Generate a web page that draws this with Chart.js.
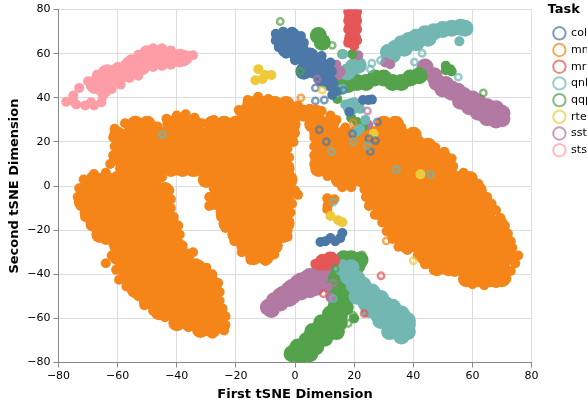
<!DOCTYPE html>
<html><head><meta charset="utf-8">
<script src="https://cdn.jsdelivr.net/npm/chart.js@4"></script>
<style>html,body{margin:0;padding:0;background:#fff;overflow:hidden;width:587px;height:406px}canvas{display:block}</style>
</head><body><canvas id="c" width="640" height="406"></canvas>
<script>
const taskNames = ["cola","mnli","mrpc","qnli","qqp","rte","sst","sts"];
const taskColors = ["#4C78A8","#F58518","#E45756","#72B7B2","#54A24B","#EECA3B","#B279A2","#FF9DA6"];
const axisTicks = [-80,-60,-40,-20,0,20,40,60,80];

// mnli: dense interior, one row per y value
const mnliRows = [
[37,[-15,-11,-7,-3]],
[33,[-17,-13,-9,-5,-1,3,7]],
[28,[-54,-50,-42,-38,-34,-28,-24,-20,-16,-12,-8,-4,-1,6,9,12,30,34]],
[23,[-60,-56,-52,-48,-44,-40,-36,-32,-28,-24,-20,-16,-12,-8,-4,-2,8,12,16,20,24,28,32,36,40]],
[18,[-58,-54,-50,-46,-42,-38,-34,-30,-26,-22,-18,-14,-10,-6,-4,9,13,17,21,25,29,33,37,41,45]],
[13,[-60,-56,-52,-48,-44,-40,-36,-32,-28,-24,-20,-16,-12,-8,-4,8,12,16,20,24,28,32,36,40,44,48,50]],
[8,[-58,-54,-50,-46,-42,-38,-34,-30,-26,-22,-18,-14,-10,-6,-3,8,12,16,20,24,28,32,36,40,44,48,52]],
[3,[-68,-64,-60,-56,-52,-48,-30,-26,-22,-18,-14,-10,-6,-2,15,19,23,27,31,35,39,43,47,51,55,59]],
[-2,[-71,-67,-63,-59,-55,-51,-47,-44,-26,-22,-18,-14,-10,-6,-2,26,30,34,38,42,46,50,54,58,62]],
[-7,[-72,-68,-64,-60,-56,-52,-48,-45,-27,-23,-19,-15,-11,-7,-3,27,31,35,39,43,47,51,55,59,63]],
[-12,[-70,-66,-62,-58,-54,-50,-46,-44,-24,-20,-16,-12,-8,-4,29,33,37,41,45,49,53,57,61,65]],
[-17,[-68,-64,-60,-56,-52,-48,-44,-42,-23,-19,-15,-11,-7,-3,33,37,41,45,49,53,57,61,65,69]],
[-22,[-66,-62,-58,-54,-50,-46,-42,-41,-20,-16,-12,-8,-4,34,38,42,46,50,54,58,62,66,70]],
[-27,[-60,-56,-52,-48,-44,-40,-17,-13,-9,-7,38,42,46,50,54,58,62,66,70]],
[-32,[-60,-56,-52,-48,-44,-40,-37,-14,-10,44,48,52,56,60,64,68,72]],
[-37,[-58,-54,-50,-46,-42,-38,-36,-33,48,52,56,60,64,68,70]],
[-42,[-56,-52,-48,-44,-40,-36,-32,-29,58,62,66,70]],
[-47,[-54,-50,-46,-42,-38,-34,-30,-28]],
[-52,[-50,-46,-42,-38,-34,-30,-27.5]],
[-57,[-46,-42,-38,-34,-30,-26]],
[-62,[-40,-36,-32,-28,-26]],
[-65,[-32,-28]]
];
const mnliFill = mnliRows.flatMap(([y,xs])=>xs.map(x=>[x,y]));
const mnliEdge = [[-61.5,22],[-61,26],[-57.5,28.5],[-54,29.5],[-50.5,28.5],[-46.5,27],[-43.5,30.5],[-40,32],[-37,32.5],[-34,31],[-31.5,28.5],[-27.5,30],[-25,27.5],[-21.5,28.5],[-19,34.5],[-16,39],[-12.5,40.5],[-9,39.5],[-6.5,38.5],[-3,37.5],[1,36.5],[5,35],[9,34],[12,32],[14,30],[17,26.5],[19.5,24],[23,24.5],[27,25],[30,26.5],[33,28.5],[36,26.5],[39,23.5],[42,20.5],[45,19],[47.5,17.5],[50.5,15.5],[53,12.5],[53.5,9],[57,6],[60,4],[62,1],[63,-2],[65,-5],[66.5,-8],[68,-11],[69.5,-14.5],[71,-18],[72,-21.5],[73,-25],[73.5,-28],[75.5,-31.5],[74.5,-35],[73,-38.5],[71.5,-42],[68,-44],[64,-45],[60,-44.5],[57,-42.5],[54,-39],[51,-38],[47,-38],[44,-35.5],[41.5,-31.5],[38,-29],[35,-27.5],[33,-24],[31,-20.5],[29.5,-16.5],[27,-13],[25,-9],[24,-5],[23.5,-1.5],[19,-0.5],[16,-0.5],[14,2.5],[11,4.5],[8,7],[6.5,10],[6.5,14],[6.5,18],[6.5,22],[6.5,24],
[0,24],[-0.5,20],[-2.5,17],[-2,13],[-2,9],[-2,5],[-2,1],[0,-2],[1,-4],[-1,-8],[-1.5,-12],[-2,-16],[-2.5,-20],[-2.5,-23],[-6,-27],[-7,-31],[-10,-34],[-15,-33.5],[-18,-30],[-20.5,-25],[-23.5,-19],[-25,-14],[-29,-9],[-29,-5],[-27.5,-1],[-31,3],[-31,5.5],[-35,6.5],[-40,7],[-46,7.5],
[-45,4],[-42.5,-2],[-42,-6],[-42,-10],[-41,-14],[-39.5,-18],[-39,-22],[-38,-27],[-34.5,-30],[-33.5,-35],[-30,-37],[-28,-40],[-26,-44],[-25.5,-48],[-25.5,-52],[-24.5,-55.5],[-23.5,-59],[-23.5,-63],[-24,-65.5],[-28,-67],[-32,-66],[-36,-64],[-40,-62],[-44,-59.5],[-48,-56.5],[-51,-54],[-53,-50],[-57,-45.5],[-59.5,-42.5],[-60.5,-38],[-64,-35],[-62,-31.5],[-61.5,-26],[-64,-24.5],[-67,-22],[-69,-18],[-71,-14],[-72.5,-9],[-73.5,-5],[-73,-1],[-71.5,3],[-68,5.5],[-64,6],[-62.5,10],[-61.5,14],[-61,18],
[10.9,-5.5],[13.3,-6],[11.5,-7.5],[10.9,-10.5],[11,-9]];
const mnliRing = [[2,40],[19.7,28.7],[30.9,-24.9]];

const colaFill = [[-5,67],[-1,68],[1,64],[-4,64],[-3,62],[1,59],[3,52],[4,56],[5,59],[8,56],[11,53],[8,52],[11,49],[9,49],[6,53]];
const colaEdge = [[-6.5,69],[-4,70],[-1,70],[2,68],[3,65],[3,62],[6,60],[9,59],[12,56],[12.5,52],[12,48.5],[9.5,47],[13,47],[6,51],[3,54],[0,57],[-3,60],[-5.5,63],[-6.5,66],[12.6,41.3],[14,43],[12,45],[23,39],[24.8,39],[26,39.2],[18.4,33.6],[8.6,-25.4],[12,-23.6],[15.3,-23.6],[16,-21.3],[13.6,-25],[10.3,-25]];
const colaRing = [[16.4,43.5],[6.9,44.5],[6.9,38.6],[9.9,39],[27.9,29.1],[8.2,25.5],[10.6,20.1],[19.4,23.7],[25,21.5],[27.2,20.6],[25.5,15.6]];

const mrpcFill = [[19.5,77],[19.5,72],[19.5,67],[9.5,-34.5],[12,-33.5]];
const mrpcEdge = [[18,79],[21,79],[18,75],[21,75],[18,71],[21,71],[21,66],[18,65],[20,63.5],[6.9,-35.3],[9.2,-33.9],[11.9,-32.6],[13.6,-33.9],[10.9,-34.8],[8,-36],[11,-36]];
const mrpcRing = [[29.1,-40.7],[23.4,-57.8],[9.6,-48.8]];

const qnliFill = [[31.6,60.7],[33,59.5],[34,62.5],[36,64.5],[37,62.5],[38.5,66],[41,67.5],[41,65],[44,69],[45,67],[47,70],[50,71],[53,71.5],[56,72],[57.5,71.5],[19.7,54],[17.7,51.7],[21.4,54.8],[19,36],
[16,-37],[19,-37],[18,-41],[21,-42],[20,-45],[23,-45],[23,-48],[21,-50],[26,-48],[26,-51],[24,-53],[29,-51],[27,-52],[28,-54],[25,-56],[31,-54],[33,-55],[31,-57],[28,-58],[34,-57],[36,-58],[32,-60],[29,-61],[35,-60.5],[38,-61],[35,-63],[32,-63],[38,-63],[32,-66],[37,-66],[38,-66],[36,-68]];
const qnliEdge = [[55.6,65.6],[13.6,42],[16,44],[10.9,45.8],[17,37],[20,38],[22,35],[19,34],[22,26],[23.8,30],[21,24.6],[16.3,59.8]];
const qnliRing = [[55.2,49.4],[43,60.2],[40.4,56.2],[26,55.7],[25.5,53],[28.9,57],[12.3,15.6],[19.7,20.1],[24.5,18.3],[34.3,7.5],[45.8,5.3],[-44.9,23.3],[13,-7.3],[13,-51]];

const qqpFill = [[15,45],[18,46],[21,47],[24,47],[27,49],[30,49],[33,47],[36,47],[39,49],[42,50],[7.9,68.3],[9.2,65.2],
[16.5,-33],[19,-33],[22,-33.5],[17,-36],[21,-36],[15,-38],[18,-39],[14,-42],[17,-43],[13,-46],[16,-47],[19,-47],[14,-50],[17,-51],[14,-54],[17,-55],[12,-58],[15,-59],[9,-62],[12,-62],[15,-62],[6,-66],[9,-66],[12,-66],[14,-66],[4,-70],[7,-70],[10,-69],[1,-73],[4,-74],[7,-73],[-1,-76],[2,-77],[5,-76]];
const qqpEdge = [[16,59.8],[19.4,59.8],[51,54.5],[52.5,53],[53,52],[51,52.5],[19,31],[21,29],[23,27],[14.3,39.5],[20,-60]];
const qqpRing = [[12.6,63.8],[-5,74.6],[1.8,52],[63.7,42.2],[22.7,-31.2],[13.6,-37.5],[19.7,-58.7],[18,-62.3]];

const rteFill = [];
const rteEdge = [[-12.4,53],[-10,50.3],[-8,50.3],[-13.4,48],[-11,48.5],[12,-13.6],[14.6,-15.5],[16,-16.4],[26.6,23.7],[42.4,5.3]];
const rteRing = [[40,-33.9],[9.2,43.5]];

const sstFill = [[44,54],[47,50],[48,47],[51,46],[50,44],[53,44],[55,43],[53,42.5],[57,41],[56,38.5],[60,39.5],[59,36],[62,38],[62,33.5],[65,36],[65,31],[68,35],[68,30],[70,33],[70,30.5],
[-9,-55],[-8,-56],[-7,-52],[-5,-53],[-5,-50],[-4,-49],[-2,-51],[-2,-47],[-1,-50],[-1,-46],[1,-48],[1,-44],[2,-48],[2,-43],[4,-45],[4,-42],[5,-41],[5,-47],[7,-42],[7,-46],[8,-39],[8,-41],[10,-39],[10,-41],[12,-39.5]];
const sstEdge = [[14,55],[15.5,52],[14.5,50],[32.2,55.2],[30.5,56],[21.4,59.3],[11,-46],[12,-50.5],[24.8,27.8]];
const sstRing = [[7.5,48.5],[24.5,34],[13,-44]];

const stsFill = [[-66,45],[-64,47],[-62,49],[-60,49],[-60,52],[-58,51],[-56,52],[-56,55],[-54,55],[-52,54],[-50,57],[-50,60],[-48,58],[-46,60],[-46,58],[-44,57],[-42,58.5],[-40,58],[-38,58],[-64,51],[-68,46]];
const stsEdge = [[-77.4,38.2],[-75,38.5],[-74,37],[-71,36.5],[-69,38],[-68,36.5],[-65.5,38],[-65,41],[-75,41],[-73,44.5],[-70,47.5],[-67,50.5],[-63.5,53],[-60,54],[-57.5,55],[-55.5,57.5],[-53,59.5],[-50,60.5],[-48,62.5],[-45,62.5],[-42,61.5],[-39,60],[-36,59],[-34.5,59.3],[-36.5,57.5],[-39,56],[-42,55],[-45,54.5],[-48,54],[-51,53],[-53,50],[-56,49],[-59,46],[-62,44],[-64,42.5],[-68,44]];
const stsRing = [];

const fillSets = [mnliFill,colaFill,mrpcFill,qnliFill,qqpFill,rteFill,sstFill,stsFill];
const edgeSets = [mnliEdge,colaEdge,mrpcEdge,qnliEdge,qqpEdge,rteEdge,sstEdge,stsEdge];
const ringSets = [mnliRing,colaRing,mrpcRing,qnliRing,qqpRing,rteRing,sstRing,stsRing];
const setTask = [1,0,2,3,4,5,6,7];
const ringOrder = [1,2,0,4,3,5,6,7];

function alpha(hex,a){const n=parseInt(hex.slice(1),16);return `rgba(${n>>16},${(n>>8)&255},${n&255},${a})`;}
const datasets=[];
setTask.forEach((t,i)=>{
  const col=taskColors[t];
  const base=i===0?100:50;
  datasets.push({data:fillSets[i],order:base+1,backgroundColor:col,borderWidth:0,pointRadius:8.5,pointHoverRadius:8.5});
  datasets.push({data:edgeSets[i],order:base,backgroundColor:col,borderWidth:0,pointRadius:5,pointHoverRadius:5});
});
setTask.forEach((t,i)=>{
  datasets.push({label:taskNames[t],data:ringSets[i],order:10-ringOrder[i],backgroundColor:'transparent',borderColor:alpha(taskColors[t],0.72),borderWidth:2.5,pointRadius:3.2,pointHoverRadius:3.2});
});

const FONT='"DejaVu Sans"';
const PLOT_RIGHT=531.5, CANVAS_W=640;
const legendPlace={id:'legendPlace',
  beforeLayout(chart){ const l=chart.legend; if(l&&!l._wrapped){l._wrapped=true;const f=l.fit;l.fit=function(){f.call(this);this.width=CANVAS_W-PLOT_RIGHT;};
    const t=l._drawTitle;l._drawTitle=function(){const c=this.ctx;c.save();c.translate(5,5.7);t.call(this);c.restore();};} },
  beforeDraw(chart){ const l=chart.legend; if(l&&!l._moved){l._moved=true;l.left+=16;l.right+=16;l.top+=-4;l.bottom+=-4;} }
};
new Chart(document.getElementById('c'),{
  type:'scatter',
  data:{datasets},
  plugins:[legendPlace],
  options:{
    responsive:false,animation:false,devicePixelRatio:1,
    events:[],
    layout:{padding:{left:0,right:0,top:7.5,bottom:0}},
    plugins:{
      tooltip:{enabled:false},
      legend:{position:'right',align:'start',
        title:{display:true,position:'start',text:'Task',color:'#000',font:{family:FONT,size:13,weight:'bold'},padding:{top:0,bottom:3}},
        labels:{font:{family:FONT,size:11},color:'#000',usePointStyle:true,boxHeight:8.8,pointStyleWidth:12.4,padding:5.7,
          generateLabels(){return taskNames.map((n,i)=>({text:n,fillStyle:'transparent',strokeStyle:alpha(taskColors[i],0.72),lineWidth:2,pointStyle:'circle',hidden:false,datasetIndex:i,fontColor:'#000'}));}
        }
      }
    },
    scales:{
      x:{type:'linear',min:-80,max:80,
        afterFit(s){s.height=43.5;},
        afterBuildTicks(s){s.ticks=axisTicks.map(v=>({value:v}));},
        grid:{color:'#ddd',lineWidth:1,tickLength:5,tickColor:'#888',drawTicks:true},
        border:{color:'#888',width:1},
        ticks:{color:'#000',font:{family:FONT,size:11},padding:2,maxRotation:0,callback:v=>String(v).replace('-','\u2212')},
        title:{display:true,text:'First tSNE Dimension',color:'#000',font:{family:FONT,size:13,weight:'bold'},padding:{top:2,bottom:4}}
      },
      y:{type:'linear',min:-80,max:80,
        afterFit(s){s.width=58.5;},
        afterBuildTicks(s){s.ticks=axisTicks.map(v=>({value:v}));},
        grid:{color:'#ddd',lineWidth:1,tickLength:5,tickColor:'#888',drawTicks:true},
        border:{color:'#888',width:1},
        ticks:{color:'#000',font:{family:FONT,size:11},padding:3,callback:v=>String(v).replace('-','\u2212')},
        title:{display:true,text:'Second tSNE Dimension',color:'#000',font:{family:FONT,size:13,weight:'bold'},padding:{top:7,bottom:0}}
      }
    }
  }
});
</script></body></html>
